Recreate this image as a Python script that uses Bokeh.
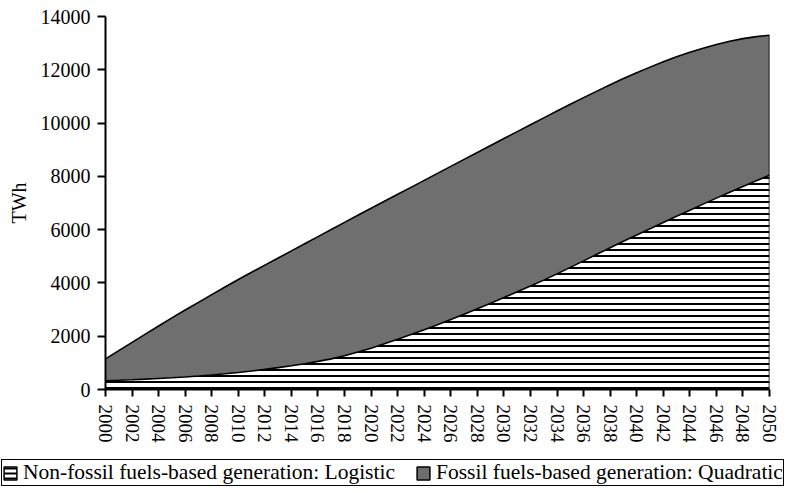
from bokeh.plotting import figure
from bokeh.models import ColumnDataSource, Legend, LegendItem, FixedTicker, Range1d
from bokeh.transform import stack
from bokeh.embed import file_html
from bokeh.resources import INLINE

# ---- data ----
years = list(range(2000, 2051))
non_fossil = [330, 348, 368, 390, 414, 440, 470, 505, 545, 590,
              640, 695, 755, 820, 890, 968, 1055, 1150, 1270, 1405,
              1550, 1715, 1885, 2060, 2240, 2430, 2625, 2825, 3030, 3240,
              3452, 3666, 3882, 4105, 4340, 4583, 4828, 5075, 5320, 5562,
              5800, 6035, 6268, 6500, 6730, 6958, 7183, 7403, 7620, 7832,
              8040]
fossil = [820, 1112, 1402, 1690, 1971, 2250, 2512, 2767, 3015, 3255,
          3490, 3705, 3913, 4115, 4312, 4502, 4683, 4855, 5002, 5133,
          5252, 5349, 5441, 5528, 5610, 5682, 5749, 5811, 5867, 5918,
          5966, 6012, 6055, 6090, 6112, 6123, 6127, 6125, 6120, 6108,
          6090, 6065, 6032, 5985, 5925, 5852, 5767, 5667, 5550, 5413,
          5256]
y_ticks = [0, 2000, 4000, 6000, 8000, 10000, 12000, 14000]
x_ticks = list(range(2000, 2051, 2))
series_labels = ["Non-fossil fuels-based generation: Logistic",
                 "Fossil fuels-based generation: Quadratic"]
y_label = "TWh"

FONT = "Liberation Serif"
GRAY = "#6f6f6f"

src = ColumnDataSource(dict(year=years, nonfossil=non_fossil, fossil=fossil))
last = ColumnDataSource(dict(year=years[-1:], nonfossil=non_fossil[-1:], fossil=fossil[-1:]))

p = figure(width=789, height=449, output_backend="svg", toolbar_location=None,
           x_range=Range1d(years[0], years[-1]), y_range=Range1d(y_ticks[0], y_ticks[-1]),
           min_border_left=105, min_border_right=20, min_border_top=16, min_border_bottom=60)
p.outline_line_color = None
p.xgrid.grid_line_color = None
p.ygrid.grid_line_color = None

# areas
p.varea(x="year", y1=0, y2=stack("nonfossil"), source=src,
        fill_color="white", hatch_pattern="-", hatch_color="black",
        hatch_scale=6, hatch_weight=2)
p.varea(x="year", y1=stack("nonfossil"), y2=stack("nonfossil", "fossil"), source=src,
        fill_color=GRAY)
# outlines
p.line(x="year", y=stack("nonfossil"), source=src, line_color="black", line_width=1.6)
p.line(x="year", y=stack("nonfossil", "fossil"), source=src, line_color="black", line_width=1.6)
p.segment(x0="year", y0=0, x1="year", y1=stack("nonfossil", "fossil"), source=last,
          line_color="black", line_width=1.6)

# axes
for ax in (p.xaxis[0], p.yaxis[0]):
    ax.axis_line_width = 2
    ax.axis_line_color = "black"
    ax.major_tick_line_width = 2
    ax.major_tick_line_color = "black"
    ax.minor_tick_line_color = None
    ax.major_tick_in = 0
    ax.major_label_text_font = FONT
    ax.major_label_text_color = "black"

p.xaxis.ticker = FixedTicker(ticks=x_ticks)
p.xaxis.major_tick_out = 7
p.xaxis.major_label_orientation = "vertical"
p.xaxis.major_label_text_font_size = "19px"
p.xaxis.major_label_standoff = 8

p.yaxis.ticker = FixedTicker(ticks=y_ticks)
p.yaxis.major_tick_out = 8
p.yaxis.major_label_text_font_size = "20px"
p.yaxis.major_label_standoff = 7
p.yaxis.axis_label = y_label
p.yaxis.axis_label_text_font = FONT
p.yaxis.axis_label_text_font_style = "normal"
p.yaxis.axis_label_text_font_size = "20px"
p.yaxis.axis_label_text_color = "black"
p.yaxis.axis_label_standoff = 8

# ---- legend strip (separate root below the chart) ----
pl = figure(width=789, height=44, output_backend="svg", toolbar_location=None,
            x_range=Range1d(0, 1), y_range=Range1d(0, 1),
            x_axis_location=None, y_axis_location=None, min_border=0)
pl.outline_line_color = None
pl.xgrid.grid_line_color = None
pl.ygrid.grid_line_color = None

# legend proxies, kept outside the visible range of the strip
leg_nf = pl.quad(left=[-2], right=[-1], top=[-1], bottom=[-2], fill_color="white",
                 hatch_pattern="-", hatch_color="black", hatch_scale=5, hatch_weight=2,
                 line_color="black", line_width=1.5)
leg_f = pl.quad(left=[-2], right=[-1], top=[-1], bottom=[-2], fill_color=GRAY,
                line_color="black", line_width=1.5)

legend = Legend(items=[LegendItem(label=series_labels[0], renderers=[leg_nf]),
                       LegendItem(label=series_labels[1], renderers=[leg_f])],
                location=(1, 7), orientation="horizontal",
                border_line_color="black", border_line_width=1.5, border_line_alpha=1,
                background_fill_color="white", background_fill_alpha=1,
                padding=0, spacing=20, label_standoff=5, glyph_width=16, glyph_height=16,
                label_text_font=FONT, label_text_font_size="21.5px",
                label_text_color="black", margin=0)
pl.add_layout(legend, "center")

open("out.html", "w").write(file_html([p, pl], INLINE))
